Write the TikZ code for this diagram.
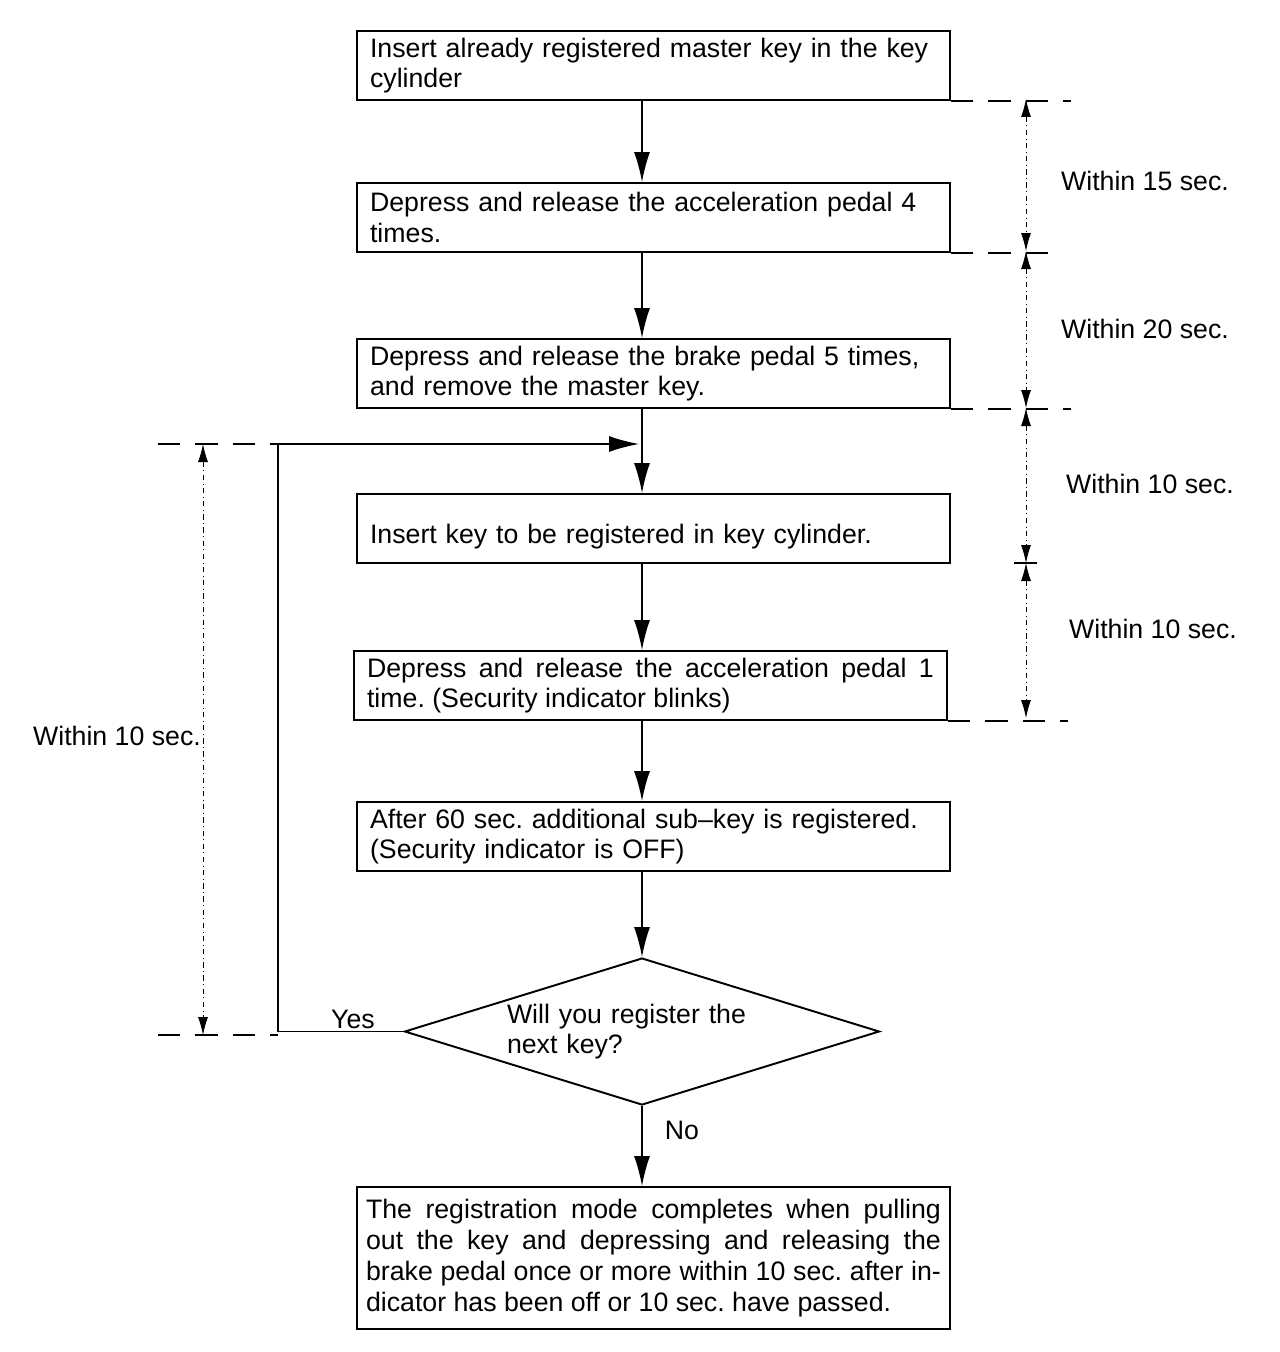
\documentclass[tikz,border=0pt]{standalone}
\usepackage{fontspec}
\setmainfont{Liberation Sans}
\usetikzlibrary{arrows.meta, shapes.geometric, calc}
\tikzset{
    stepBox/.style={draw, line width=1.1pt, minimum width=11.86cm, minimum height=1.38cm,
        text width=11.34cm, inner xsep=0.26cm, align=left},
    flowArrow/.style={-{Latex[length=0.6cm, width=0.32cm]}, line width=0.8pt},
    dimArrow/.style={{Latex[length=0.36cm, width=0.2cm]}-{Latex[length=0.36cm, width=0.2cm]},
        line width=0.5pt, dash dot},
    extLine/.style={line width=0.8pt, dash pattern=on 0.45cm off 0.3cm}
}

\begin{document}
\frenchspacing
\begin{tikzpicture}[x=0.02cm, y=-0.02cm, font=\fontsize{15.2}{17.4}\selectfont]
    \useasboundingbox (0,0) rectangle (1280,1352);

    \node[stepBox] (s1) at (653.5,65.5) {Insert already registered master key in the key\\cylinder};
    \node[stepBox] (s2) at (653.5,217.5) {Depress and release the acceleration pedal 4\\times.};
    \node[stepBox] (s3) at (653.5,373.5) {Depress and release the brake pedal 5 times,\\and remove the master key.};
    \node[stepBox] (s4) at (653.5,528.5) {\rule{0pt}{0.7cm}Insert key to be registered in key cylinder.};
    \node[stepBox, align=justify] (s5) at (650.5,685.5) {Depress and release the acceleration pedal 1\linebreak time. (Security indicator blinks)};
    \node[stepBox] (s6) at (653.5,836.5) {After 60 sec. additional sub--key is registered.\\(Security indicator is OFF)};
    \node[draw, diamond, aspect=3.23, line width=1.1pt, minimum width=9.5cm, minimum height=2.94cm,
        inner sep=0pt, text width=5.4cm, align=left] (q) at (642,1031.5) {Will you register the\\next key?};
    \node[stepBox, align=justify, minimum height=2.84cm, text width=11.5cm, inner xsep=0.18cm,
        font=\fontsize{15.2}{17.8}\selectfont] (s7) at (653.5,1258)
        {The registration mode completes when pulling\linebreak out the key and depressing and releasing the\linebreak brake pedal once or more within 10 sec. after in-\linebreak dicator has been off or 10 sec. have passed.};

    \node (yes) at (353,1019) {Yes};
    \node (no) at (682,1130) {No};

    % Arrows
    \coordinate (spine) at (642,0);
    \coordinate (join) at (642,444);
    \coordinate (loopX) at (278,0);
    \draw[flowArrow] (s1.south -| spine) -- (s2.north -| spine);
    \draw[flowArrow] (s2.south -| spine) -- (s3.north -| spine);
    \draw[flowArrow] (s3.south -| spine) -- (s4.north -| spine);
    \draw[flowArrow] (s4.south -| spine) -- (s5.north -| spine);
    \draw[flowArrow] (s5.south -| spine) -- (s6.north -| spine);
    \draw[flowArrow] (s6.south -| spine) -- (q.north);
    \draw[flowArrow] (q.south) -- (s7.north -| q.south);
    \draw[flowArrow] (q.west) -- (q.west -| loopX) |- ([xshift=-0.06cm]join);

    % Time limits
    \draw[extLine] (s1.south east) -- ++(120,0);
    \draw[extLine] (s2.south east) -- ++(110,0);
    \draw[extLine] (s3.south east) -- ++(120,0);
    \draw[extLine] (1014,563) -- (1046,563);
    \draw[extLine] (s5.south east) -- ++(120,0);
    \draw[dimArrow] (1026,99) -- (1026,251);
    \draw[dimArrow] (1026,251) -- (1026,408);
    \draw[dimArrow] (1026,408) -- (1026,563);
    \draw[dimArrow] (1026,563) -- (1026,718);
    \node (t1) at (1145,181) {Within 15 sec.};
    \node (t2) at (1145,329) {Within 20 sec.};
    \node (t3) at (1150,484) {Within 10 sec.};
    \node (t4) at (1153,629) {Within 10 sec.};

    \draw[extLine] (158,444) -- (278,444);
    \draw[extLine] (158,1035) -- (278,1035);
    \draw[dimArrow] (203,444) -- (203,1035);
    \node (t5) at (117,736) {Within 10 sec.};
\end{tikzpicture}
\end{document}
